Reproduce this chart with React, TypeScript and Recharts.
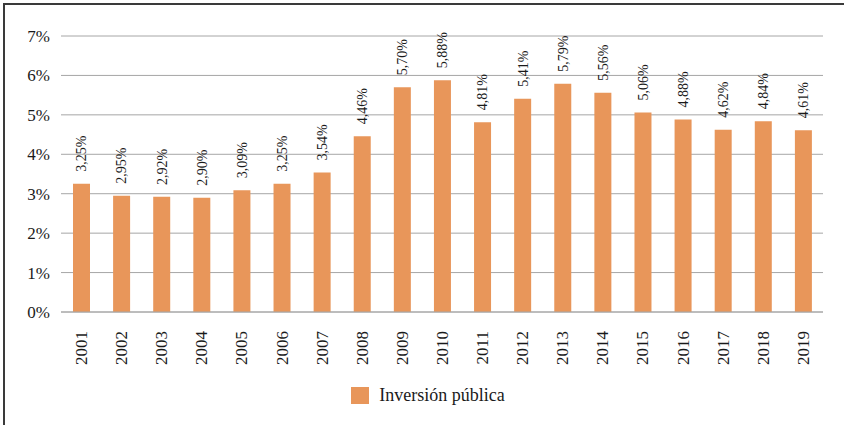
import React from "react";
import {
  BarChart,
  Bar,
  XAxis,
  YAxis,
  CartesianGrid,
  Legend,
  LabelList,
} from "recharts";

const years = [
  "2001", "2002", "2003", "2004", "2005", "2006", "2007", "2008", "2009", "2010",
  "2011", "2012", "2013", "2014", "2015", "2016", "2017", "2018", "2019",
];
const inversionPublica = [
  3.25, 2.95, 2.92, 2.9, 3.09, 3.25, 3.54, 4.46, 5.7, 5.88,
  4.81, 5.41, 5.79, 5.56, 5.06, 4.88, 4.62, 4.84, 4.61,
];
const yTicks = [0, 1, 2, 3, 4, 5, 6, 7];

const data = years.map((year, i) => ({ year, value: inversionPublica[i] }));

const FONT = "Liberation Serif, DejaVu Serif, serif";
const BAR = "#E8965A";

const fmt = (v: number) => v.toFixed(2).replace(".", ",") + "%";

// year labels, turned to read bottom-up
const YearTick = (props: any) => {
  const { x, y, payload } = props;
  return (
    <text
      x={x}
      y={y + 11}
      dy="0.35em"
      transform={`rotate(-90, ${x}, ${y + 11})`}
      textAnchor="end"
      style={{ fontFamily: FONT, fontSize: 17 }}
      fill="#1a1a1a"
    >
      {payload.value}
    </text>
  );
};

const ValueLabel = (props: any) => {
  const { x, y, width, value } = props;
  const cx = x + width / 2;
  const ty = y - 12;
  return (
    <text
      x={cx}
      y={ty}
      dy="0.35em"
      transform={`rotate(-90, ${cx}, ${ty})`}
      textAnchor="start"
      style={{ fontFamily: FONT, fontSize: 14 }}
      fill="#1a1a1a"
    >
      {fmt(value)}
    </text>
  );
};

const LegendBox = () => (
  <div
    style={{
      display: "flex",
      justifyContent: "center",
      alignItems: "center",
      height: 24,
      paddingLeft: 32,
      fontFamily: FONT,
      fontSize: 18,
      color: "#1a1a1a",
    }}
  >
    <span
      style={{
        display: "inline-block",
        width: 18,
        height: 17,
        background: BAR,
        marginRight: 10,
      }}
    />
    Inversión pública
  </div>
);

export default function App() {
  return (
    <div
      style={{
        position: "fixed",
        left: 0,
        top: 0,
        width: 844,
        height: 425,
        overflow: "hidden",
        background: "#fff",
        fontFamily: FONT,
      }}
    >
      <div
        style={{
          position: "absolute",
          left: 3,
          top: 3,
          width: 900,
          height: 500,
          borderLeft: "2px solid #3a3a3a",
          borderTop: "2px solid #3a3a3a",
        }}
      />
      <BarChart
        width={844}
        height={425}
        data={data}
        margin={{ top: 36, right: 21, bottom: 18, left: 1 }}
        barSize={17}
        style={{ position: "absolute", left: 0, top: 0, fontFamily: FONT }}
      >
        <CartesianGrid vertical={false} stroke="#a6a6a6" strokeWidth={1} />
        <XAxis
          dataKey="year"
          height={71}
          interval={0}
          tickLine={false}
          axisLine={{ stroke: "#a6a6a6" }}
          tick={<YearTick />}
        />
        <YAxis
          width={60}
          domain={[0, 7]}
          ticks={yTicks}
          tickLine={false}
          axisLine={false}
          tickMargin={5}
          tickFormatter={(v: number) => `${v}%`}
          tick={{ fontSize: 17, fill: "#1a1a1a", style: { fontFamily: FONT } }}
        />
        <Legend verticalAlign="bottom" content={<LegendBox />} />
        <Bar dataKey="value" fill={BAR} isAnimationActive={false}>
          <LabelList dataKey="value" content={<ValueLabel />} />
        </Bar>
      </BarChart>
    </div>
  );
}
